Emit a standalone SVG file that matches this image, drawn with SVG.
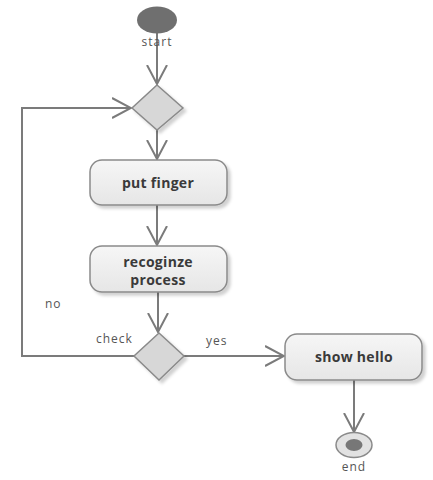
<svg xmlns="http://www.w3.org/2000/svg" width="433" height="480" viewBox="0 0 433 480">
  <style>
    .edge { fill: none; stroke: #7b7b7b; stroke-width: 2; }
    .box { fill: url(#boxGrad); stroke: #8a8a8a; stroke-width: 1.5; filter: url(#shadow); }
    .diamond { fill: #d7d7d7; stroke: #8a8a8a; stroke-width: 1.5; filter: url(#shadow); }
    .label { font-family: "Open Sans", "Liberation Sans", sans-serif; font-weight: bold; font-size: 14px; fill: #3a3a3a; text-anchor: middle; letter-spacing: 0.3px; }
    .small { font-family: "Open Sans", "Liberation Sans", sans-serif; font-size: 12px; fill: #555; letter-spacing: 1px; }
  </style>
  <defs>
    <linearGradient id="boxGrad" x1="0" y1="0" x2="0" y2="1">
      <stop offset="0" stop-color="#f6f6f6"/>
      <stop offset="1" stop-color="#e6e6e6"/>
    </linearGradient>
    <filter id="shadow" x="-20%" y="-20%" width="150%" height="150%">
      <feDropShadow dx="3" dy="3" stdDeviation="1.5" flood-color="#000" flood-opacity="0.18"/>
    </filter>
    <marker id="arrow" viewBox="0 0 20 22" markerWidth="20" markerHeight="22" refX="19" refY="11" orient="auto" markerUnits="userSpaceOnUse">
      <path d="M0,1 L19,11 L0,21" fill="none" stroke="#7b7b7b" stroke-width="2"/>
    </marker>
  </defs>

  <g id="connectors">
    <path class="edge" d="M157,33 L157,84" marker-end="url(#arrow)"/>
    <path class="edge" d="M134,356 L22,356 L22,108 L131,108" marker-end="url(#arrow)"/>
    <path class="edge" d="M157,130 L157,159" marker-end="url(#arrow)"/>
    <path class="edge" d="M157,205 L157,245" marker-end="url(#arrow)"/>
    <path class="edge" d="M158,292 L158,332" marker-end="url(#arrow)"/>
    <path class="edge" d="M184,356 L284,356" marker-end="url(#arrow)"/>
    <path class="edge" d="M354,380 L354,432" marker-end="url(#arrow)"/>
    <text class="small" x="45" y="308">no</text>
    <text class="small" x="96" y="343">check</text>
    <text class="small" x="206" y="345">yes</text>
  </g>

  <g id="start">
    <ellipse cx="157" cy="20" rx="20" ry="13.5" fill="#6f6f6f"/>
    <text class="small" x="157" y="46" text-anchor="middle">start</text>
  </g>

  <g id="merge">
    <polygon class="diamond" points="157,85 183,108 157,130 132,108"/>
  </g>

  <g id="put-finger">
    <rect class="box" x="90" y="160" width="137" height="45" rx="12" ry="12"/>
    <text class="label" x="158" y="188">put finger</text>
  </g>

  <g id="recognize-process">
    <rect class="box" x="90" y="246" width="137" height="46" rx="12" ry="12"/>
    <text class="label" x="158" y="267">recoginze</text>
    <text class="label" x="158" y="285">process</text>
  </g>

  <g id="check">
    <polygon class="diamond" points="159,333 184,356 159,380 134,356"/>
  </g>

  <g id="show-hello">
    <rect class="box" x="285" y="334" width="137" height="46" rx="12" ry="12"/>
    <text class="label" x="354" y="362">show hello</text>
  </g>

  <g id="end">
    <ellipse cx="354" cy="445" rx="18" ry="12.5" fill="#e2e2e2" stroke="#8a8a8a" stroke-width="1.5"/>
    <ellipse cx="354" cy="445" rx="8.5" ry="6" fill="#777"/>
    <text class="small" x="354" y="471" text-anchor="middle">end</text>
  </g>
</svg>
